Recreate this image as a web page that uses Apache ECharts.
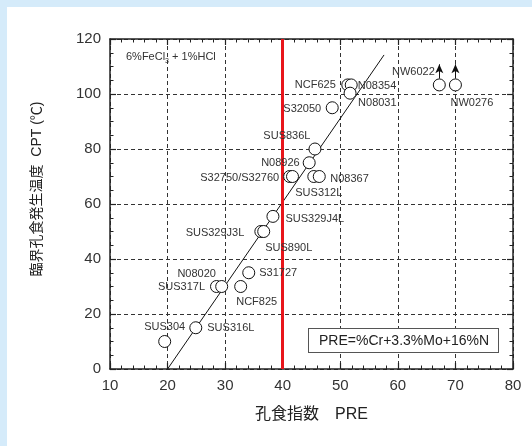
<!DOCTYPE html>
<html><head><meta charset="utf-8">
<script src="https://cdn.jsdelivr.net/npm/echarts@6/dist/echarts.min.js"></script>
<style>html,body{margin:0;padding:0;background:#fff}#c{width:532px;height:446px}</style>
</head><body><div id="c"></div>
<script>
// ---- data ----
const names = ['SUS304','SUS316L','SUS317L','N08020','NCF825','S31727','SUS329J3L','SUS890L','SUS329J4L','S32750','S32760','N08926','SUS312L','N08367','SUS836L','S32050','NCF625','N08354','N08031','NW6022','NW0276'];
const labels = ['SUS304','SUS316L','SUS317L','N08020','NCF825','S31727','SUS329J3L','SUS890L','SUS329J4L','S32750/S32760','','N08926','SUS312L','N08367','SUS836L','S32050','NCF625','N08354','N08031','NW6022','NW0276'];
const pre = [19.5,24.9,28.5,29.4,32.7,34.1,36.2,36.7,38.3,41.2,41.7,44.6,45.4,46.35,45.6,48.6,51.3,51.9,51.7,67.2,70.0];
const cpt = [10,15,30,30,30,35,50,50,55.5,70,70,75,70,70,80,95,103.3,103.3,100.3,103.3,103.3];
const trendX = [20,57.6];
const trendY = [0,114.2];
const arrowX = [67.2,70.0];
const arrowFrom = [105.6,105.6];
const arrowTo = [110.8,110.8];
const xTicks = [10,20,30,40,50,60,70,80];
const yTicks = [0,20,40,60,80,100,120];
const preLimit = 40;

// ---- label placement (style only) ----
const labelPos = {
  'SUS304':{position:'top',distance:3,offset:[0,0]},
  'SUS316L':{position:'right',distance:5,offset:[0,0]},
  'SUS317L':{position:'left',distance:5,offset:[0,0]},
  'N08020':{position:'top',distance:1,offset:[-25,0]},
  'NCF825':{position:'bottom',distance:3,offset:[16,0]},
  'S31727':{position:'right',distance:4,offset:[0,0]},
  'SUS329J3L':{position:'left',distance:10,offset:[0,1]},
  'SUS890L':{position:'bottom',distance:4,offset:[25,0]},
  'SUS329J4L':{position:'right',distance:6,offset:[0,2.5]},
  'S32750':{position:'left',distance:4,offset:[0,1]},
  'N08926':{position:'left',distance:3,offset:[0,0]},
  'SUS312L':{position:'bottom',distance:4,offset:[5,0]},
  'N08367':{position:'right',distance:4.5,offset:[0,2.5]},
  'SUS836L':{position:'left',distance:-2,offset:[0,-13]},
  'S32050':{position:'left',distance:4.5,offset:[0,1]},
  'NCF625':{position:'left',distance:5.5,offset:[0,0]},
  'N08354':{position:'right',distance:0,offset:[0,1]},
  'N08031':{position:'right',distance:1.5,offset:[0,9.5]},
  'NW6022':{position:'left',distance:-2,offset:[0,-13]},
  'NW0276':{position:'bottom',distance:6,offset:[16.5,0]}
};

const FONT = "'Liberation Sans','Noto Sans CJK JP',sans-serif";
const pts = names.map((n,i)=>{
  const lp = labelPos[n];
  return {
    name:n, value:[pre[i],cpt[i]],
    label: lp && labels[i] ? Object.assign({show:true, formatter:labels[i]}, lp) : {show:false}
  };
});

const chart = echarts.init(document.getElementById('c'), null, {renderer:'canvas'});
const axisCommon = {
  type:'value',
  axisLine:{show:true,onZero:false,lineStyle:{color:'#222',width:1.5}},
  axisTick:{show:true,inside:true,length:6,lineStyle:{color:'#222',width:1.2}},
  minorTick:{show:true,length:3.5,lineStyle:{color:'#222',width:1}},
  minorSplitLine:{show:false}
};
chart.setOption({
  backgroundColor:'#fff',
  animation:false,
  textStyle:{fontFamily:FONT},
  grid:{left:110,right:19,top:39,bottom:77,containLabel:false,outerBoundsMode:'none'},
  xAxis:[
    Object.assign({}, axisCommon, {
      min:xTicks[0], max:xTicks[xTicks.length-1], interval:10, position:'bottom',
      minorTick:Object.assign({}, axisCommon.minorTick, {splitNumber:5}),
      splitLine:{show:true,lineStyle:{color:'#333',type:[4,3],width:1}},
      axisLabel:{show:true,margin:9,fontSize:15,fontFamily:FONT,
        color:(v)=> v===preLimit ? '#e8151b' : '#333'},
      name:'孔食指数　PRE', nameLocation:'middle', nameGap:38,
      nameTextStyle:{fontSize:16,color:'#222',fontFamily:FONT}
    }),
    Object.assign({}, axisCommon, {
      min:xTicks[0], max:xTicks[xTicks.length-1], interval:10, position:'top',
      minorTick:Object.assign({}, axisCommon.minorTick, {splitNumber:5}),
      splitLine:{show:false}, axisLabel:{show:false}
    })
  ],
  yAxis:[
    Object.assign({}, axisCommon, {
      min:yTicks[0], max:yTicks[yTicks.length-1], interval:20, position:'left',
      minorTick:Object.assign({}, axisCommon.minorTick, {splitNumber:4}),
      splitLine:{show:true,lineStyle:{color:'#333',type:[4,3],width:1}},
      axisLabel:{show:true,margin:9,fontSize:15,color:'#333',fontFamily:FONT},
      name:'臨界孔食発生温度  CPT (℃)', nameLocation:'middle', nameGap:66,
      nameTextStyle:{fontSize:14,color:'#222',fontFamily:FONT,padding:[0,0,0,30]}
    }),
    Object.assign({}, axisCommon, {
      min:yTicks[0], max:yTicks[yTicks.length-1], interval:20, position:'right',
      minorTick:Object.assign({}, axisCommon.minorTick, {splitNumber:4}),
      splitLine:{show:false}, axisLabel:{show:false}
    })
  ],
  series:[
    {
      type:'line', xAxisIndex:0, yAxisIndex:0, silent:true,
      data: trendX.map((x,i)=>[x,trendY[i]]),
      symbol:'none', lineStyle:{color:'#111',width:1}, z:3
    },
    {
      type:'line', xAxisIndex:0, yAxisIndex:0, data:[], silent:true,
      markLine:{silent:true, symbol:['none','none'], label:{show:false},
        lineStyle:{color:'#e8151b',width:3,type:'solid'},
        data:[{xAxis:preLimit}]}, z:4
    },
    {
      type:'scatter', xAxisIndex:0, yAxisIndex:0,
      symbol:'circle', symbolSize:12,
      itemStyle:{color:'#fff',borderColor:'#111',borderWidth:1,opacity:1},
      label:{fontSize:11,color:'#333',fontFamily:FONT},
      data:pts, z:5,
      markLine:{silent:true, symbol:['none','arrow'], symbolSize:[6,9], label:{show:false},
        lineStyle:{color:'#111',width:1,type:'solid'},
        data: arrowX.map((x,i)=>[{coord:[x,arrowFrom[i]]},{coord:[x,arrowTo[i]]}])}
    }
  ],
  graphic:[
    {type:'rect',left:0,top:0,shape:{width:532,height:7},style:{fill:'#d5ebfa'},silent:true},
    {type:'rect',left:0,top:0,shape:{width:7,height:446},style:{fill:'#d5ebfa'},silent:true},
    {type:'text',left:126,top:51,silent:true,z:10,
      style:{text:'{a|6%FeCl}{s|3}{a| + 1%HCl}',fontSize:11,fill:'#333',fontFamily:FONT,
        rich:{
          a:{fontSize:11,fill:'#333',fontFamily:FONT,lineHeight:17,verticalAlign:'middle'},
          s:{fontSize:7,fill:'#333',fontFamily:FONT,lineHeight:17,verticalAlign:'bottom'}
        }}},
    {type:'text',left:308,top:328,silent:true,z:10,
      style:{text:'PRE=%Cr+3.3%Mo+16%N',fontSize:14,fill:'#222',fontFamily:FONT,
        backgroundColor:'#fff',borderColor:'#555',borderWidth:1,padding:[5,10,4,10],
        width:169,align:'left'}}
  ]
});
</script></body></html>
